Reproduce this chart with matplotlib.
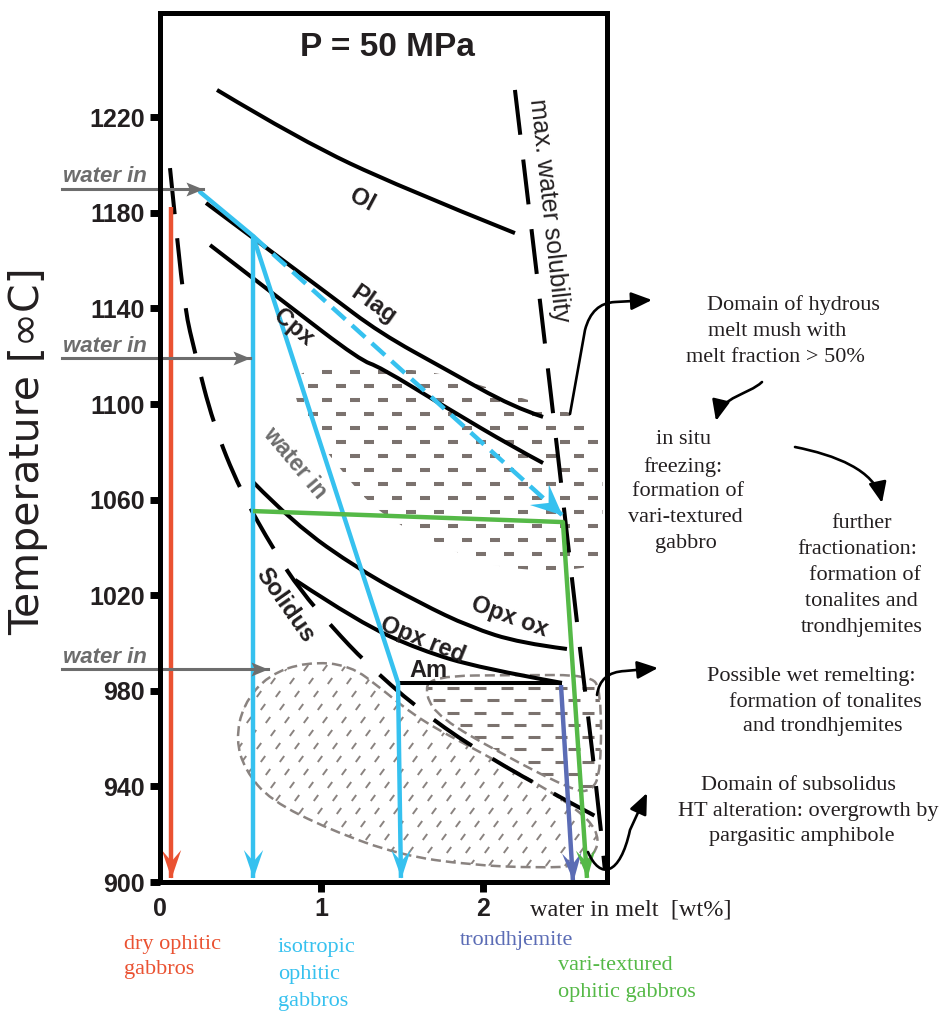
import numpy as np
import matplotlib
matplotlib.use("Agg")
import matplotlib.pyplot as plt
from matplotlib.path import Path
from matplotlib.patches import PathPatch, FancyArrowPatch
from matplotlib.collections import LineCollection
from matplotlib.markers import MarkerStyle
from matplotlib.transforms import Affine2D

SANS = ["Liberation Sans", "DejaVu Sans"]
SERIF = ["Liberation Serif", "DejaVu Serif"]
INK = "#231f20"
GREY = "#6d6d6d"
DOTS = "#7b726e"
OUTLINE = "#8a8380"
RED = "#ea5232"
BLUE = "#36c1ef"
GREEN = "#55b947"
PURPLE = "#5b6cb5"

# phase boundaries: water in melt [wt%] vs temperature [degC]
ol_w = [0.353, 0.867, 1.486, 2.198]
ol_t = [1231.4, 1210.5, 1190.8, 1171.5]
plag_w = [0.285, 0.576, 1.034, 1.362, 1.777, 2.186, 2.372]
plag_t = [1184.1, 1169.5, 1146.4, 1129.7, 1114.2, 1098.7, 1094.6]
cpx_w = [0.310, 0.774, 1.238, 1.362, 1.777, 2.186, 2.372]
cpx_t = [1166.5, 1142.3, 1118.4, 1115.5, 1098.3, 1082.0, 1075.3]
opx_ox_w = [0.576, 0.824, 1.238, 1.610, 1.920, 2.229, 2.520]
opx_ox_t = [1067.4, 1050.2, 1030.5, 1016.7, 1006.7, 1000.0, 997.5]
opx_red_w = [0.836, 1.238, 1.610, 1.981, 2.489]
opx_red_t = [1026.4, 1008.4, 997.1, 989.5, 983.3]
am_w = [1.474, 2.489]
am_t = [983.3, 983.3]
solidus_w = [0.062, 0.105, 0.155, 0.217, 0.328, 0.495, 0.712, 0.867,
             1.071, 1.269, 1.591, 1.932, 2.334, 2.706]
solidus_t = [1198.7, 1169.5, 1139.3, 1121.3, 1092.1, 1064.0, 1038.1, 1022.2,
             1006.3, 992.1, 972.8, 956.5, 940.6, 927.2]
solub_w = [2.198, 2.353, 2.489, 2.601, 2.706, 2.755]
solub_t = [1231.4, 1143.5, 1064.0, 997.1, 938.5, 905.0]

# crystallisation paths
dry_w, dry_t = [0.068, 0.068], [1182.4, 901.7]
iso_in_w, iso_in_t = [0.248, 0.576], [1188.7, 1170.3]
iso_a_w, iso_a_t = [0.576, 0.576], [1170.3, 901.7]
iso_b_w, iso_b_t = [0.576, 1.474, 1.492], [1170.3, 983.3, 901.7]
mush_path_w, mush_path_t = [0.576, 2.489], [1170.3, 1053.6]
vari_w, vari_t = [0.576, 2.495, 2.644], [1055.2, 1050.6, 901.7]
trond_w, trond_t = [2.483, 2.557], [982.4, 900.4]

# "water in" arrows
water_in_t = [1190.0, 1119.2, 989.1]
water_in_tip = [0.266, 0.557, 0.669]

# domains
mush_w = [0.817, 0.929, 1.610, 1.981, 2.477, 2.724, 2.743, 2.737, 2.663, 2.105, 1.734, 1.362, 1.115, 0.867]
mush_t = [1110.0, 1115.1, 1115.1, 1108.0, 1097.5, 1092.5, 1072.4, 1036.8, 1030.5, 1030.5, 1041.0, 1053.6, 1072.4, 1095.4]
blob_w = [0.910, 1.176, 1.381, 1.610, 1.981, 2.353, 2.588, 2.706, 2.712, 2.601, 2.353, 1.920, 1.486,
          1.053, 0.681, 0.526, 0.471, 0.514, 0.669]
blob_t = [992.1, 990.8, 980.3, 967.8, 954.4, 940.6, 930.1, 921.8, 913.4, 906.7, 905.9, 907.1, 911.3,
          921.8, 934.3, 946.9, 959.4, 974.1, 986.6]
remelt_w = [1.672, 2.229, 2.663, 2.731, 2.731, 2.675, 2.551, 2.105, 1.734, 1.641]
remelt_t = [986.2, 986.6, 986.6, 980.3, 946.9, 937.7, 938.5, 954.0, 968.6, 978.2]

y_ticks = [900, 940, 980, 1020, 1060, 1100, 1140, 1180, 1220]
x_ticks = [0, 1, 2]


def open_path(w, t):
    pts = np.column_stack([w, t])
    n = len(pts)
    verts, codes = [pts[0]], [Path.MOVETO]
    for i in range(1, n - 1):
        end = pts[i + 1] if i == n - 2 else (pts[i] + pts[i + 1]) / 2
        verts += [pts[i], end]
        codes += [Path.CURVE3, Path.CURVE3]
    if n == 2:
        verts.append(pts[1])
        codes.append(Path.LINETO)
    return Path(verts, codes)


def closed_path(w, t):
    pts = np.column_stack([w, t])
    mids = (pts + np.roll(pts, -1, axis=0)) / 2
    verts, codes = [mids[-1]], [Path.MOVETO]
    for i in range(len(pts)):
        verts += [pts[i], mids[i]]
        codes += [Path.CURVE3, Path.CURVE3]
    verts.append(mids[-1])
    codes.append(Path.CLOSEPOLY)
    return Path(verts, codes)


fig = plt.figure(figsize=(9.43, 10.15), dpi=100)
ax = fig.add_axes([160 / 943, 133 / 1015, 447 / 943, 869 / 1015])
ax.set_xlim(0, 2.768)
ax.set_ylim(900, 1263.6)
# image-pixel coordinates for annotations outside the plot
PX = Affine2D().scale(1 / 943, -1 / 1015).translate(0, 1) + fig.transFigure


def curve(w, t, dashes=None, lw=2.9, color="black", z=3):
    p = PathPatch(open_path(w, t), fill=False, lw=lw, ec=color, capstyle="butt", zorder=z)
    if dashes:
        p.set_linestyle((0, dashes))
    ax.add_patch(p)


def head(w0, t0, w1, t1, color, ms=41, width=0.34, notch=0.6, z=6):
    p0 = ax.transData.transform((w0, t0))
    p1 = ax.transData.transform((w1, t1))
    ang = np.degrees(np.arctan2(p1[1] - p0[1], p1[0] - p0[0]))
    shape = Path([(0, 0), (-1, width), (-notch, 0), (-1, -width), (0, 0)],
                 [Path.MOVETO, Path.LINETO, Path.LINETO, Path.LINETO, Path.CLOSEPOLY])
    m = MarkerStyle(shape, transform=Affine2D().rotate_deg(ang))
    ax.plot([w1], [t1], marker=m, ms=ms, color=color, mew=0, ls="none", zorder=z, clip_on=False)


def path_arrow(w, t, color, lw=3.2, dashes=None, z=5, **kw):
    if dashes:
        ax.plot(w, t, color=color, lw=lw, dashes=dashes, dash_capstyle="butt", zorder=z)
    else:
        ax.plot(w, t, color=color, lw=lw, solid_capstyle="butt", zorder=z)
    head(w[-2], t[-2], w[-1], t[-1], color, z=z + 1, **kw)


# textured domains
def texture(w, t, segs, lw, color=DOTS, outline=False):
    patch = PathPatch(closed_path(w, t), fc="none", zorder=1.5,
                      ec=OUTLINE if outline else "none", lw=1.8,
                      ls=(0, (4, 2)) if outline else "-")
    ax.add_patch(patch)
    lc = LineCollection(segs, colors=color, linewidths=lw, transform=PX, zorder=1, capstyle="butt")
    ax.add_collection(lc, autolim=False)
    lc.set_clip_path(patch)


segs = []
for k, yy in enumerate(np.arange(358, 580, 14)):
    off = 14 if k % 2 else 0
    for xx in np.arange(280 + off, 615, 28):
        segs.append([(xx, yy), (xx + 10, yy)])
texture(mush_w, mush_t, segs, 2.9)

segs = []
for k, yy in enumerate(np.arange(655, 875, 13)):
    off = 5 * (k % 4)
    for xx in np.arange(225 + off, 610, 19):
        segs.append([(xx - 2.2, yy + 3), (xx + 2.2, yy - 3)])
texture(blob_w, blob_t, segs, 1.4, color="#8a8380", outline=True)

segs = []
for k, yy in enumerate(np.arange(688, 795, 12.3)):
    off = 13 if k % 2 else 0
    for xx in np.arange(420 + off, 610, 27):
        segs.append([(xx, yy), (xx + 12, yy)])
texture(remelt_w, remelt_t, segs, 2.2, outline=True)

# phase boundaries
for w, t in [(ol_w, ol_t), (plag_w, plag_t), (cpx_w, cpx_t), (opx_ox_w, opx_ox_t),
             (opx_red_w, opx_red_t), (am_w, am_t)]:
    curve(w, t)
curve(solidus_w, solidus_t, dashes=(11.5, 6.0))
curve(solub_w, solub_t, dashes=(11.2, 6.2))

# crystallisation paths
path_arrow(dry_w, dry_t, RED)
ax.plot(iso_in_w, iso_in_t, color=BLUE, lw=3.2, solid_capstyle="round", zorder=5)
path_arrow(iso_a_w, iso_a_t, BLUE)
path_arrow(iso_b_w, iso_b_t, BLUE)
path_arrow(mush_path_w, mush_path_t, BLUE, dashes=(4.0, 2.0), ms=45, width=0.45, notch=0.6)
path_arrow(vari_w, vari_t, GREEN, z=7)
path_arrow(trond_w, trond_t, PURPLE)

for t, tip in zip(water_in_t, water_in_tip):
    ax.plot([-0.607, tip], [t, t], color=GREY, lw=2.2, clip_on=False, zorder=5)
    head(-0.607, t, tip, t, GREY, ms=24.5, width=0.41, notch=0.8)

# axes styling
for s in ax.spines.values():
    s.set_linewidth(3.6)
    s.set_zorder(8)
ax.set_yticks(y_ticks, [str(v) for v in y_ticks], fontsize=18, fontweight="bold",
              family=SANS, color=INK)
ax.set_xticks(x_ticks, [str(v) for v in x_ticks], fontsize=18, fontweight="bold",
              family=SANS, color=INK)
ax.tick_params(direction="out", length=7, width=5, pad=4)
ax.xaxis.get_major_ticks()[0].tick1line.set_visible(False)

lab = dict(fontsize=17, fontweight="bold", family=SANS, color=INK, ha="center", va="center",
           transform=PX, rotation_mode="anchor")
fig.text(387, 48, "P = 50 MPa", **{**lab, "fontsize": 24})
fig.text(362, 200, "Ol", rotation=-28, **lab)
fig.text(373, 305, "Plag", rotation=-35, **lab)
fig.text(293, 327, "Cpx", rotation=-40, **lab)
fig.text(510, 617, "Opx ox", rotation=-20, **lab)
fig.text(423, 640, "Opx red", rotation=-22, **lab)
fig.text(428, 671, "Am", **lab)
fig.text(285, 605, "Solidus", rotation=-55, **lab)
fig.text(549, 210, "max. water solubility", rotation=-83.8,
         **{**lab, "fontweight": "normal", "fontsize": 18})
fig.text(295, 463, "water in", rotation=-50,
         **{**lab, "color": GREY, "fontsize": 16.5})
for yy in [177, 346, 658]:
    fig.text(105, yy, "water in", style="italic", **{**lab, "color": GREY, "fontsize": 16})

fig.text(28, 451, "Temperature [\u221eC]", rotation=90, fontsize=29.5,
         family=["DejaVu Sans"], color=INK, ha="center", va="center", transform=PX)

# side notes
note = dict(fontsize=16, family=SERIF, color="#231f20", ha="center", va="center", transform=PX)
for s, x, y in [("Domain of hydrous", 793, 305), ("melt mush with", 777, 332),
                ("melt fraction > 50%", 775, 358),
                ("in situ", 684, 440), ("freezing:", 683, 467), ("formation of", 688, 492),
                ("vari-textured", 685, 518), ("gabbro", 686, 544),
                ("further", 862, 524), ("fractionation:", 857, 550), ("formation of", 865, 576),
                ("tonalites and", 861, 602), ("trondhjemites", 862, 628),
                ("Possible wet remelting:", 811, 677), ("formation of tonalites", 825, 703),
                ("and trondhjemites", 823, 727),
                ("Domain of subsolidus", 798, 786), ("HT alteration: overgrowth by", 808, 812),
                ("pargasitic amphibole", 802, 837)]:
    fig.text(x, y, s, **note)

fig.text(631, 910, "water in melt  [wt%]", **{**note, "fontsize": 17.5})
left = {**note, "ha": "left"}
fig.text(124, 945, "dry ophitic", **{**left, "color": RED})
fig.text(124, 970, "gabbros", **{**left, "color": RED})
for s, y in [("isotropic", 948), ("ophitic", 975), ("gabbros", 1002)]:
    fig.text(278, y, s, **{**left, "color": BLUE})
fig.text(460, 941, "trondhjemite", **{**left, "color": PURPLE})
fig.text(558, 966, "vari-textured", **{**left, "color": GREEN})
fig.text(558, 993, "ophitic gabbros", **{**left, "color": GREEN})

# curved pointer arrows
M, L, C3, C4 = Path.MOVETO, Path.LINETO, Path.CURVE3, Path.CURVE4
pointers = [
    ([(570, 414), (585, 330), (592, 303), (615, 302), (652, 300)], [M, L, C3, C3, L]),
    ([(762, 382), (748, 395), (722, 396), (716, 421)], [M, C4, C4, C4]),
    ([(795, 447), (835, 455), (875, 470), (882, 503)], [M, C4, C4, C4]),
    ([(597, 695), (600, 672), (625, 671), (658, 668)], [M, C3, C3, L]),
    ([(588, 852), (600, 880), (620, 876), (630, 830), (647, 793)], [M, C4, C4, C4, L]),
]
for verts, codes in pointers:
    fig.add_artist(FancyArrowPatch(path=Path(verts, codes), transform=PX,
                                   arrowstyle="-|>,head_length=0.7,head_width=0.3",
                                   mutation_scale=18, lw=1.9, color="black", zorder=9))

fig.savefig("out.png", dpi=100)
